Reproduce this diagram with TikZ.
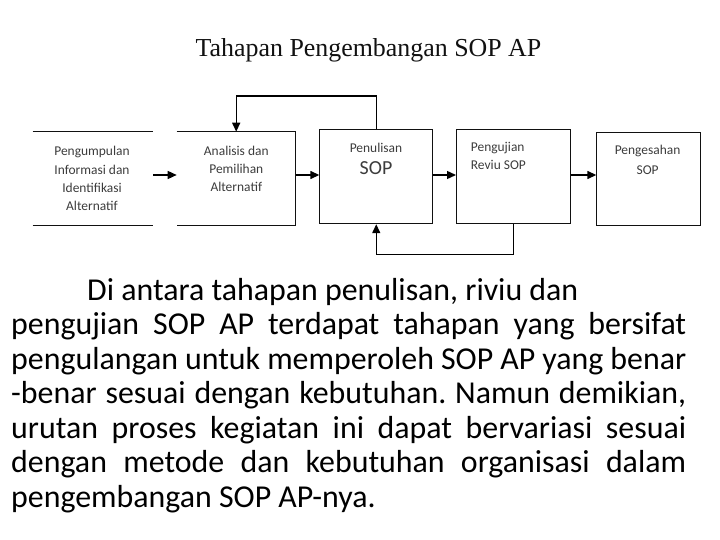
\documentclass[tikz,border=0pt]{standalone}
\usepackage{fontspec}
\usepackage{xcolor}
\setmainfont{Carlito}
\newfontfamily\titleFont{Liberation Serif}
\usetikzlibrary{arrows.meta}
\definecolor{boxColor}{HTML}{111111}
\definecolor{linkColor}{HTML}{000000}
\definecolor{labelTextColor}{HTML}{3C3C3C}
\definecolor{titleTextColor}{HTML}{111111}
\definecolor{bodyTextColor}{HTML}{000000}
\def\titleText{Tahapan Pengembangan SOP AP}
\def\stageA{Pengumpulan\\Informasi dan\\Identifikasi\\Alternatif}
\def\stageB{Analisis dan\\Pemilihan\\Alternatif}
\def\stageC{Penulisan\\[4bp]{\fontsize{20}{22}\selectfont SOP}}
\def\stageD{Pengujian\\Reviu SOP}
\def\stageE{Pengesahan\\[2.5bp]SOP}

\begin{document}
\begin{tikzpicture}[x=1bp,y=-1bp,
stagebox/.style n args={2}{rectangle, inner sep=0pt, anchor=north west,
minimum width=#1, minimum height=#2},
stagelabel/.style={inner sep=0pt, text=labelTextColor,
font=\fontsize{13.5}{18.3}\selectfont},
link/.style={color=linkColor, line width=1.4bp,
-{Triangle[length=9bp, width=8bp]}}]

\useasboundingbox (0, 0) rectangle (720, 540);

% title
\node[anchor=base, inner sep=0pt, text=titleTextColor,
font=\titleFont\fontsize{26}{30}\selectfont] (title) at (368.5, 56.7) {\titleText};

% box layer
\begin{scope}
\node[stagebox={120bp}{93.3bp}] (boxA) at (32.7, 131.7) {};
\node[stagebox={118.6bp}{93.3bp}] (boxB) at (176.7, 131.7) {};
\node[stagebox={113bp}{94bp}, draw=boxColor, line width=0.9bp] (boxC) at (319.3, 129.3) {};
\node[stagebox={114.3bp}{94bp}, draw=boxColor, line width=0.9bp] (boxD) at (456, 129.3) {};
\node[stagebox={104bp}{93.6bp}, draw=boxColor, line width=0.9bp] (boxE) at (596.3, 131.7) {};
\draw[color=boxColor, line width=0.9bp] (boxA.north west) -- (boxA.north east);
\draw[color=boxColor, line width=0.9bp] (boxA.south west) -- (boxA.south east);
\draw[color=boxColor, line width=0.9bp] (boxB.north west) -- (boxB.north east)
-- (boxB.south east) -- (boxB.south west);
\end{scope}

% label layer (base = last line)
\begin{scope}
\node[stagelabel, align=center, anchor=base] (labelA) at (92, 210.6) {\stageA};
\node[stagelabel, align=center, anchor=base] (labelB) at (236.3, 191.6) {\stageB};
\node[stagelabel, align=center, anchor=base] (labelC) at (376, 174.3) {\stageC};
\node[stagelabel, align=left, anchor=base west] (labelD) at (470.7, 170) {\stageD};
\node[stagelabel, align=center, anchor=base] (labelE) at (647.6, 175) {\stageE};
\end{scope}

% link layer
\begin{scope}
\coordinate (linkRow) at (0, 175);
\coordinate (loopTop) at (0, 96);
\coordinate (loopBottom) at (0, 254.3);
\draw[link] (boxA.east |- linkRow) -- (boxB.west |- linkRow);
\draw[link] (boxB.east |- linkRow) -- (boxC.west |- linkRow);
\draw[link] (boxC.east |- linkRow) -- (boxD.west |- linkRow);
\draw[link] (boxD.east |- linkRow) -- (boxE.west |- linkRow);
\draw[link] (boxC.north) -- (boxC.north |- loopTop) -| (boxB.north);
\draw[link] (boxD.south) -- (boxD.south |- loopBottom) -| (boxC.south);
\end{scope}

% text layer
\node[anchor=base west, inner sep=0pt, text width=675bp, align=justify,
text=bodyTextColor, font=\fontsize{32}{34.7}\selectfont\frenchspacing] (body) at (11, 300)
{\hspace*{76bp}Di antara tahapan penulisan, riviu dan\newline
pengujian SOP AP terdapat tahapan yang bersifat\linebreak
pengulangan untuk memperoleh SOP AP yang benar\linebreak
-benar sesuai dengan kebutuhan. Namun demikian,\linebreak
urutan proses kegiatan ini dapat bervariasi sesuai\linebreak
dengan metode dan kebutuhan organisasi dalam\linebreak
pengembangan SOP AP-nya.};

\end{tikzpicture}
\end{document}
